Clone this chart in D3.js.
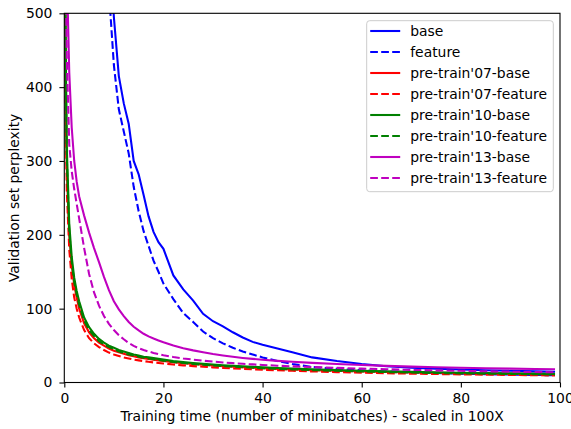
<!DOCTYPE html>
<html>
<head>
<meta charset="utf-8">
<script src="https://cdn.jsdelivr.net/npm/d3@7"></script>
<style>
  body { margin: 0; background: #fff; }
  text { font-family: "DejaVu Sans", sans-serif; }
</style>
</head>
<body>
<div id="chart"></div>
<script>
// x positions (training time) shared by every series
const steps = [0, 0.25, 0.5, 1, 1.5, 2, 2.5, 3, 4, 5, 6, 7, 8, 9, 10, 11, 12, 13, 14, 15, 16, 17, 18, 19, 20,
  22, 24, 26, 28, 30, 32, 34, 36, 38, 40, 43, 46, 50, 55, 60, 65, 70, 75, 80, 85, 90, 95, 99];

const base = [3000, 2900, 2800, 2600, 2400, 2200, 2000, 1850, 1600, 1350, 1100, 900, 730, 600, 495, 415, 378, 350, 300, 282, 254, 225, 204, 190, 181,
  145, 126, 111, 93, 83, 76, 68, 61, 55, 51, 46, 41, 34, 29, 25, 22, 20, 18.6, 17.5, 16.6, 15.8, 15.1, 14.6];
const feature = [2800, 2700, 2600, 2400, 2200, 2000, 1850, 1700, 1450, 1200, 1000, 820, 640, 530, 430, 370, 340, 310, 265, 232, 205, 185, 165, 150, 134,
  113, 94, 82, 69, 60, 53, 47, 42, 38, 34, 29, 25, 21, 18.5, 16.5, 15, 13.8, 12.8, 12, 11.3, 10.7, 10.2, 9.8];
const pre07Base = [900, 420, 290, 200, 160, 132, 115, 100, 80, 68, 60, 54, 50, 46, 43, 41, 39, 37, 35.5, 34, 33, 32, 31, 30, 29,
  27.5, 26, 25, 24, 23, 22, 21.3, 20.6, 20, 19.4, 18.5, 17.7, 16.8, 15.8, 15, 14.3, 13.7, 13.1, 12.6, 12.1, 11.7, 11.3, 11];
const pre07Feature = [850, 380, 260, 180, 140, 115, 100, 88, 71, 60, 53, 48, 44, 40.5, 38, 36, 34, 32.5, 31, 30, 29, 28, 27.2, 26.5, 25.8,
  24.4, 23.2, 22.2, 21.3, 20.5, 19.7, 19, 18.4, 17.8, 17.3, 16.5, 15.8, 15, 14.1, 13.3, 12.6, 12, 11.5, 11, 10.6, 10.2, 9.9, 9.6];
const pre10Base = [950, 470, 320, 215, 170, 142, 124, 110, 88, 75, 66, 59, 54, 50, 47, 44, 42, 40, 38, 36.5, 35, 34, 33, 32, 31,
  29, 27.6, 26.4, 25.3, 24.3, 23.4, 22.6, 21.9, 21.2, 20.6, 19.7, 18.9, 17.9, 16.8, 15.9, 15.1, 14.4, 13.8, 13.3, 12.8, 12.4, 12, 11.7];
const pre10Feature = [900, 450, 305, 205, 163, 136, 119, 105, 84, 71, 63, 56, 51.5, 48, 45, 42, 40, 38, 36.5, 35, 33.5, 32.5, 31.5, 30.5, 29.5,
  27.8, 26.4, 25.2, 24.1, 23.2, 22.3, 21.5, 20.8, 20.1, 19.5, 18.6, 17.8, 16.8, 15.8, 14.9, 14.1, 13.5, 12.9, 12.4, 12, 11.6, 11.2, 11];
const pre13Base = [1200, 720, 560, 420, 345, 300, 272, 252, 226, 203, 182, 163, 143, 125, 110, 99, 90, 82, 75.5, 70.5, 66, 62.5, 59.5, 57, 54.5,
  50, 46.5, 43.5, 41, 38.5, 36.5, 34.8, 33.3, 32, 30.8, 29.3, 28, 26.6, 25, 23.7, 22.5, 21.5, 20.7, 20, 19.4, 18.8, 18.3, 18];
const pre13Feature = [1000, 580, 440, 322, 286, 262, 242, 222, 182, 147, 122, 104, 90, 79.5, 71, 64, 58.5, 53.5, 49.5, 46.5, 44, 42, 40, 38.5, 37,
  34.5, 32.5, 31, 29.5, 28.3, 27.2, 26.2, 25.3, 24.5, 23.8, 22.8, 21.9, 20.9, 19.8, 18.8, 17.9, 17.1, 16.4, 15.8, 15.2, 14.7, 14.2, 13.9];

const seriesNames = ["base", "feature", "pre-train'07-base", "pre-train'07-feature",
  "pre-train'10-base", "pre-train'10-feature", "pre-train'13-base", "pre-train'13-feature"];
const seriesValues = [base, feature, pre07Base, pre07Feature, pre10Base, pre10Feature, pre13Base, pre13Feature];
const seriesColors = ["#0000ff", "#0000ff", "#ff0000", "#ff0000", "#008000", "#008000", "#bf00bf", "#bf00bf"];
const seriesDashed = [false, true, false, true, false, true, false, true];

const xTicks = [0, 20, 40, 60, 80, 100];
const yTicks = [0, 100, 200, 300, 400, 500];

const fontSize = 13.9,
    lineWidth = 2.08,
    dash = "7.7,3.3";

const margin = {top: 13.3, right: 11, bottom: 46.5, left: 64.3},
    width = 571 - margin.left - margin.right,
    height = 429 - margin.top - margin.bottom;

const svg = d3.select("#chart")
  .append("svg")
    .attr("width", 571)
    .attr("height", 429)
  .append("g")
    .attr("transform", `translate(${margin.left}, ${margin.top})`);

const xScale = d3.scaleLinear().domain([0, 100]).range([0, width]);
const yScale = d3.scaleLinear().domain([0, 500]).range([height, 0]);

svg.append("clipPath").attr("id", "plot-clip")
  .append("rect").attr("width", width).attr("height", height);

const line = d3.line()
  .x((d, i) => xScale(steps[i]))
  .y(d => yScale(d));

// lines, in legend order so later ones sit on top
svg.append("g").attr("clip-path", "url(#plot-clip)")
  .selectAll("path")
  .data(seriesValues)
  .join("path")
    .attr("d", d => line(d))
    .attr("fill", "none")
    .attr("stroke", (d, i) => seriesColors[i])
    .attr("stroke-width", lineWidth)
    .attr("stroke-dasharray", (d, i) => seriesDashed[i] ? dash : null);

// axes, matplotlib style
const xAxis = svg.append("g")
  .attr("transform", `translate(0, ${height})`)
  .call(d3.axisBottom(xScale).tickValues(xTicks).tickSize(4.9).tickPadding(5.5));
const yAxis = svg.append("g")
  .call(d3.axisLeft(yScale).tickValues(yTicks).tickSize(4.9).tickPadding(7));
[xAxis, yAxis].forEach(a => {
  a.select(".domain").remove();
  a.selectAll("line").attr("stroke", "#000").attr("stroke-width", 1.1);
  a.selectAll("text").attr("font-size", fontSize).attr("fill", "#000")
    .attr("font-family", "DejaVu Sans, sans-serif");
});

svg.append("rect")
  .attr("width", width).attr("height", height)
  .attr("fill", "none").attr("stroke", "#000").attr("stroke-width", 1.1);

svg.append("text")
  .attr("x", width / 2).attr("y", height + 39)
  .attr("text-anchor", "middle").attr("font-size", fontSize)
  .text("Training time (number of minibatches) - scaled in 100X");

svg.append("text")
  .attr("transform", `translate(${-45}, ${height / 2}) rotate(-90)`)
  .attr("text-anchor", "middle").attr("font-size", fontSize)
  .text("Validation set perplexity");

// legend
const legend = svg.append("g")
  .attr("transform", `translate(${366.7 - margin.left}, ${20.7 - margin.top})`);
legend.append("rect")
  .attr("width", 186.6).attr("height", 171)
  .attr("rx", 3)
  .attr("fill", "#fff").attr("fill-opacity", 0.8)
  .attr("stroke", "#cccccc").attr("stroke-width", 1);

const rows = legend.selectAll("g.row")
  .data(seriesNames)
  .join("g")
    .attr("class", "row")
    .attr("transform", (d, i) => `translate(0, ${10.3 + i * 21})`);
rows.append("line")
  .attr("x1", 3.5).attr("x2", 33.5)
  .attr("stroke", (d, i) => seriesColors[i])
  .attr("stroke-width", lineWidth)
  .attr("stroke-dasharray", (d, i) => seriesDashed[i] ? dash : null);
rows.append("text")
  .attr("x", 43.5).attr("dy", "0.35em")
  .attr("font-size", fontSize)
  .text(d => d);
</script>
</body>
</html>
